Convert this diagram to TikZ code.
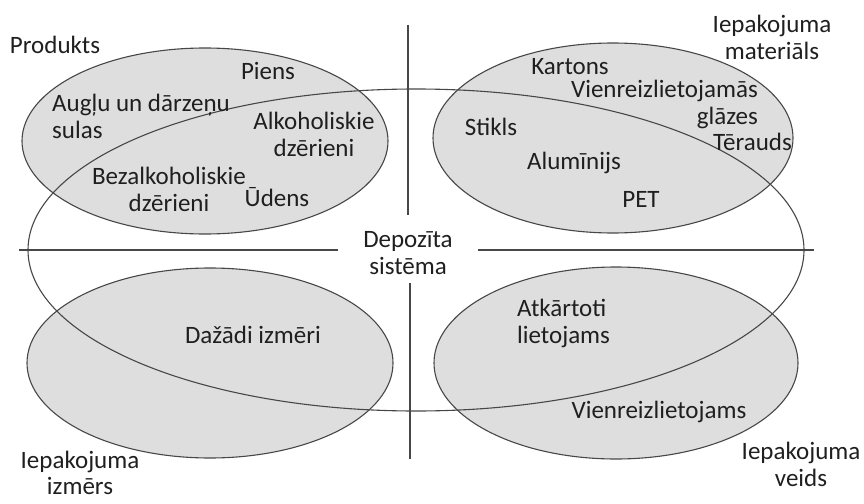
\documentclass[tikz,border=0pt]{standalone}
\usepackage{fontspec}
\setmainfont{Carlito}
\tikzset{x = 1pt, y = -1pt,
  area/.style = {fill = black!13},
  rim/.style = {draw = black!72, line width = 1.1pt},
  txt/.style = {text = black!88, inner sep = 0pt, align = center,
    font = \fontsize{25}{27}\selectfont}}

\begin{document}
\begin{tikzpicture}
    \useasboundingbox (0,0) rectangle (864,503);
    % shaded sets
    \fill [area] (205,141) ellipse [x radius = 183, y radius = 93];
    \fill [area] (613,138) ellipse [x radius = 180, y radius = 95];
    \fill [area] (210,363) ellipse [x radius = 183, y radius = 95];
    \fill [area] (616,363) ellipse [x radius = 182, y radius = 96];
    % outlines
    \draw [rim] (205,141) ellipse [x radius = 183, y radius = 93];
    \draw [rim] (613,138) ellipse [x radius = 180, y radius = 95];
    \draw [rim] (210,363) ellipse [x radius = 183, y radius = 95];
    \draw [rim] (616,363) ellipse [x radius = 182, y radius = 96];
    \draw [rim] (416,250) ellipse [x radius = 388, y radius = 161];
    % axes
    \coordinate (top) at (408,25);
    \coordinate (topend) at (408,215);
    \coordinate (bot) at (410,283);
    \coordinate (botend) at (410,459);
    \coordinate (lft) at (19,250);
    \coordinate (lftend) at (338,250);
    \coordinate (rgt) at (478,250);
    \coordinate (rgtend) at (814,250);
    \draw [rim] (top) -- (topend);
    \draw [rim] (bot) -- (botend);
    \draw [rim] (lft) -- (lftend);
    \draw [rim] (rgt) -- (rgtend);
    % set names
    \node [txt] (produkts) at (55,45) {Produkts};
    \node [txt] (materials) at (772,37) {Iepakojuma\\materiāls};
    \node [txt, font = \fontsize{25}{26}\selectfont] (izmers) at (80,473) {Iepakojuma\\izmērs};
    \node [txt] (veids) at (801,464) {Iepakojuma\\veids};
    \node [txt] (depozits) at (408,253) {Depozīta\\sistēma};
    % products
    \node [txt] (piens) at (268,71) {Piens};
    \node [txt, align = left, anchor = west] (sulas) at (52,116) {Augļu un dārzeņu\\sulas};
    \node [txt] (alko) at (314,134) {Alkoholiskie\\dzērieni};
    \node [txt] (bezalko) at (169,189) {Bezalkoholiskie\\dzērieni};
    \node [txt] (udens) at (277,197) {Ūdens};
    % materials
    \node [txt] (kartons) at (570,67) {Kartons};
    \node [txt, align = right, anchor = east] (glazes) at (758,104) {Vienreizlietojamās\\glāzes};
    \node [txt, anchor = east] (terauds) at (792,142) {Tērauds};
    \node [txt] (stikls) at (491,127) {Stikls};
    \node [txt] (aluminijs) at (574,163) {Alumīnijs};
    \node [txt] (pet) at (641,199) {PET};
    % size and type
    \node [txt] (izmeri) at (253,335) {Dažādi izmēri};
    \node [txt, align = left, anchor = west] (atkartoti) at (517,323) {Atkārtoti\\lietojams};
    \node [txt] (vienreiz) at (659,412) {Vienreizlietojams};
\end{tikzpicture}
\end{document}
